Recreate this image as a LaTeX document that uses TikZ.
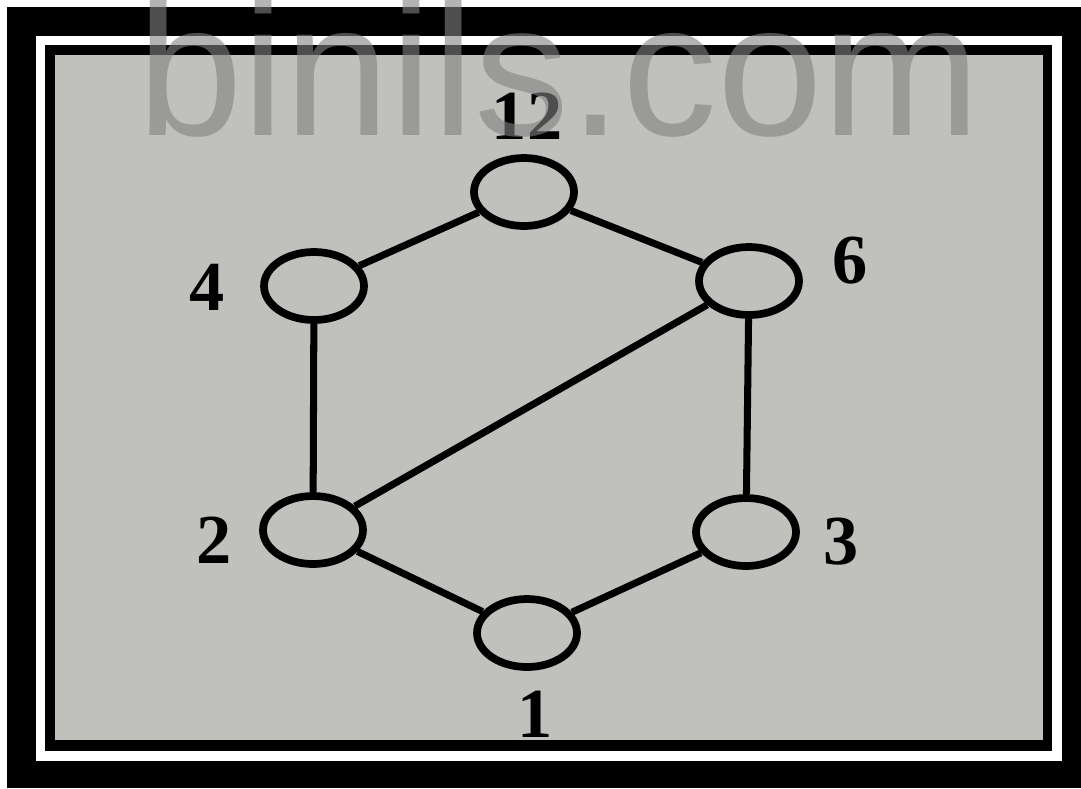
\documentclass[tikz,border=0pt]{standalone}
\usepackage{fontspec}
\setmainfont{Liberation Serif}
\newfontfamily\wmfont{Liberation Sans}
\usepackage{tikz}
\usetikzlibrary{shapes.geometric, positioning}

\definecolor{paper}{RGB}{192,192,188}
\definecolor{wmgray}{RGB}{130,130,130}

\begin{document}
\begin{tikzpicture}[
  x=0.02cm, y=-0.02cm,
  vtx/.style={draw, ellipse, line width=4.4pt, minimum width=2cm,
              minimum height=1.36cm, inner sep=0pt},
  edge/.style={line width=4pt},
  lbl/.style={font=\fontsize{40}{40}\selectfont\bfseries, inner sep=0pt},
]
% frame
\useasboundingbox (0,0) rectangle (1081,788);
\fill[white] (0,0) rectangle (1081,788);
\fill[black] (7,7) rectangle (1081,788);
\fill[white] (36,36) rectangle (1062,761);
\fill[black] (45,45) rectangle (1052,751);
\fill[paper] (55,55) rectangle (1043,740);

% lattice
\node[vtx] (n12) at (524,192) {};
\node[vtx] (n4)  at (314,286) {};
\node[vtx] (n6)  at (749,281) {};
\node[vtx] (n2)  at (313,530) {};
\node[vtx] (n3)  at (746,532) {};
\node[vtx] (n1)  at (527,633) {};

\node[lbl] (l12) at (527,116) {12};
\node[lbl] (l4)  at (207,287) {4};
\node[lbl] (l6)  at (850,261) {6};
\node[lbl] (l2)  at (214,540) {2};
\node[lbl] (l3)  at (841,542) {3};
\node[lbl] (l1)  at (535,714) {1};

\draw[edge] (n12) -- (n4);
\draw[edge] (n12) -- (n6);
\draw[edge] (n4)  -- (n2);
\draw[edge] (n6)  -- (n3);
\draw[edge] (n6)  -- (n2);
\draw[edge] (n2)  -- (n1);
\draw[edge] (n3)  -- (n1);

% watermark
\node[anchor=base west, inner sep=0pt, text=wmgray, text opacity=0.6,
      font=\wmfont\fontsize{108}{108}\selectfont] (wm) at (137,135) {binils.com};
\end{tikzpicture}
\end{document}
